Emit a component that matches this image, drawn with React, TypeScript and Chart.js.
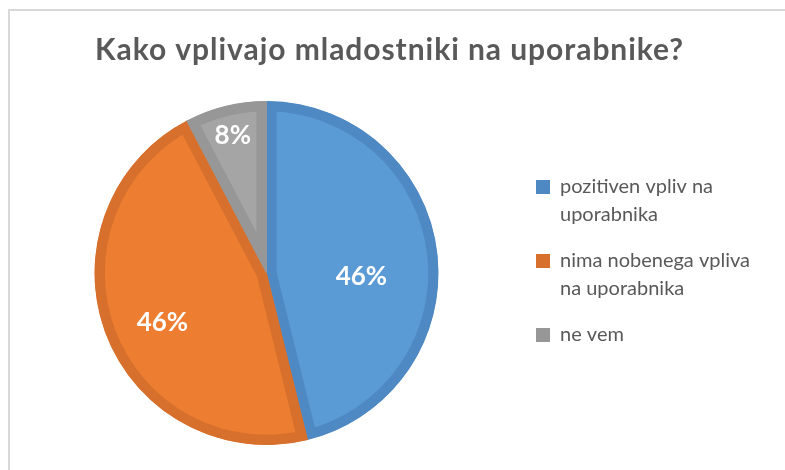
import React, { useEffect, useRef } from "react";
import { Chart, registerables } from "chart.js";

Chart.register(...registerables);

const TITLE = "Kako vplivajo mladostniki na uporabnike?";
const CATEGORY_LINES: string[][] = [
  ["pozitiven vpliv na", "uporabnika"],
  ["nima nobenega vpliva", "na uporabnika"],
  ["ne vem"],
];
const VALUES = [12, 12, 2];
const FILL_COLORS = ["#5B9BD5", "#ED7D31", "#A5A5A5"];
const BORDER_COLORS = ["#4F89C3", "#D6702C", "#979797"];

// label placement inside each slice: angular shift (deg) from mid-angle and radial fraction
const LABEL_PLACEMENT = [
  { shift: 8.8, frac: 0.552 },
  { shift: -4.5, frac: 0.669 },
  { shift: 0, frac: 0.82 },
];

const FONT = "Lato, 'Open Sans', sans-serif";

const pctLabels = {
  id: "pctLabels",
  afterDatasetsDraw(chart: any) {
    const ctx = chart.ctx;
    const meta = chart.getDatasetMeta(0);
    const data = chart.data.datasets[0].data as number[];
    const total = data.reduce((a, b) => a + b, 0);
    ctx.save();
    ctx.fillStyle = "#FFFFFF";
    ctx.font = `bold 26px ${FONT}`;
    ctx.textAlign = "center";
    ctx.textBaseline = "middle";
    meta.data.forEach((arc: any, i: number) => {
      const { x, y, startAngle, endAngle, outerRadius } = arc.getProps(
        ["x", "y", "startAngle", "endAngle", "outerRadius"],
        true
      );
      const p = LABEL_PLACEMENT[i] || { shift: 0, frac: 0.6 };
      const mid = (startAngle + endAngle) / 2 + (p.shift * Math.PI) / 180;
      const r = outerRadius * p.frac;
      const txt = Math.round((data[i] / total) * 100) + "%";
      ctx.fillText(txt, x + Math.cos(mid) * r, y + Math.sin(mid) * r);
    });
    ctx.restore();
  },
};

// give the chart title a little letter spacing (Calibri-like width)
const titleSpacing = {
  id: "titleSpacing",
  beforeDraw(chart: any) {
    const tb = chart.titleBlock;
    if (tb && !tb.__spaced) {
      const orig = tb.draw.bind(tb);
      tb.draw = (...args: any[]) => {
        const c = chart.ctx;
        c.save();
        (c as any).letterSpacing = "0.95px";
        c.translate(2, 0);
        orig(...args);
        c.restore();
      };
      tb.__spaced = true;
    }
  },
};

export default function App() {
  const ref = useRef<HTMLCanvasElement | null>(null);

  useEffect(() => {
    if (!ref.current) return;
    const chart = new Chart(ref.current, {
      type: "pie",
      data: {
        labels: CATEGORY_LINES.map((l) => l.join(" ")),
        datasets: [
          {
            data: VALUES,
            backgroundColor: FILL_COLORS,
            borderColor: BORDER_COLORS,
            borderWidth: 10,
            borderAlign: "inner",
          } as any,
        ],
      },
      options: {
        responsive: false,
        animation: false,
        events: [],
        layout: { padding: { left: 5, right: 25, top: 0, bottom: 25 } },
        plugins: {
          tooltip: { enabled: false },
          title: {
            display: true,
            text: TITLE,
            color: "#595959",
            font: { family: FONT, weight: "bold", size: 30, lineHeight: 1.2 },
            padding: { top: 21, bottom: 33 },
          },
          legend: {
            position: "right",
            align: "start",
            fullSize: false,
            title: {
              display: true,
              text: "",
              font: { size: 1, lineHeight: "0px" } as any,
              padding: { top: 58, bottom: 0 },
            },
            labels: {
              boxWidth: 14,
              boxHeight: 14,
              padding: 18,
              color: "#595959",
              font: { family: FONT, size: 20, lineHeight: 1.4 },
              generateLabels: () =>
                CATEGORY_LINES.map((lines, i) => ({
                  text: lines as any,
                  fillStyle: BORDER_COLORS[i],
                  strokeStyle: BORDER_COLORS[i],
                  lineWidth: 0,
                  hidden: false,
                  index: i,
                  fontColor: "#595959",
                })),
            },
          },
        },
      },
      plugins: [titleSpacing, pctLabels],
    });
    return () => chart.destroy();
  }, []);

  return (
    <div
      style={{
        position: "fixed",
        left: 8,
        top: 9,
        right: 0,
        bottom: 0,
        borderTop: "2px solid #D9D9D9",
        borderLeft: "2px solid #D9D9D9",
        background: "#FFFFFF",
      }}
    >
      <canvas ref={ref} width={775} height={459} style={{ display: "block" }} />
    </div>
  );
}
